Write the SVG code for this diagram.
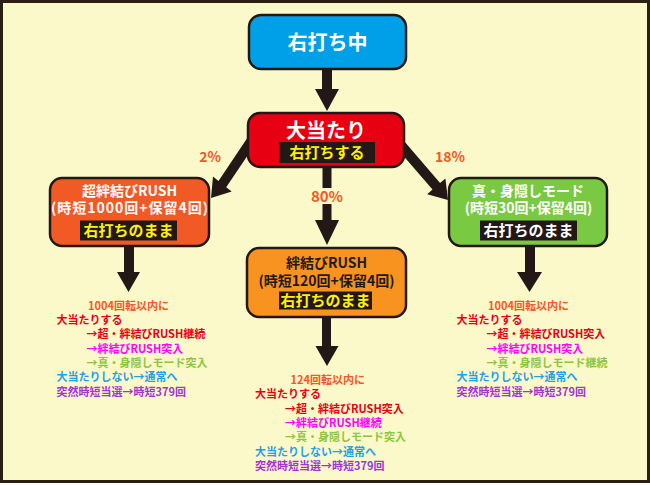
<svg xmlns="http://www.w3.org/2000/svg" width="650" height="485" viewBox="0 0 650 485">
<style>
text{font-family:"Noto Sans CJK JP","Noto Sans",sans-serif;font-weight:bold}
.node{stroke:#231815;stroke-width:2.5}
.arrow{fill:#231815}
.t20{font-size:20px;fill:#fff;text-anchor:middle}
.t14{font-size:14px;fill:#fff;text-anchor:middle}
.sub{font-size:15px;fill:#fff100;text-anchor:middle}
.pct{font-size:14px;fill:#f15a24;text-anchor:middle}
.s{font-size:11px}
.or{fill:#f15a24}.rd{fill:#e60012}.mg{fill:#ff00ff}.gn{fill:#8cc63f}.bl{fill:#1ea0e6}.pu{fill:#a233d4}
</style>
<rect x="1.5" y="1.5" width="647" height="480" fill="#fbf8ca" stroke="#2b1f14" stroke-width="3"/>
<g id="connectors">
<polygon class="arrow" points="322,68 332,68 332,89 339,89 327,111 315,89 322,89"/>
<polygon class="arrow" points="322.5,160 331.5,160 331.5,220 339,220 327,245 315,220 322.5,220"/>
<rect x="308" y="188" width="38" height="16" fill="#fbf8ca"/>
<polygon class="arrow" points="404.2,141.3 440.1,183.1 445.4,178.5 448,200 427.2,194.2 432.5,189.6 396.6,147.9"/>
<polygon class="arrow" points="257.1,141.3 226.2,187.2 231.7,191.6 211,198 213.0,176.4 218.5,180.9 249.3,135.0"/>
<polygon class="arrow" points="124,240 134,240 134,272 140,272 128.5,292 117,272 124,272"/>
<polygon class="arrow" points="525,240 535,240 535,272 542,272 529.5,292 517,272 525,272"/>
<polygon class="arrow" points="322,310 331,310 331,346 338.5,346 327,366 315.5,346 322,346"/>
<text class="pct" x="210" y="162">2%</text>
<text class="pct" x="450" y="162">18%</text>
<text class="pct" x="327" y="202" style="font-size:15px">80%</text>
</g>
<g id="node-migiuchi">
<rect class="node" x="249" y="15" width="157" height="54" rx="12" fill="#00a0e9"/>
<text class="t20" x="327.5" y="49.5">右打ち中</text>
</g>
<g id="node-oatari">
<rect class="node" x="248" y="113" width="156" height="54" rx="12" fill="#e60012"/>
<text class="t20" x="326" y="137.5">大当たり</text>
<rect x="279" y="142" width="96" height="21" fill="#231815"/>
<text class="sub" x="327" y="158">右打ちする</text>
</g>
<g id="node-super-rush">
<rect class="node" x="50" y="178" width="159" height="68" rx="12" fill="#f15a24"/>
<text class="t14" x="129.5" y="196">超絆結びRUSH</text>
<text class="t14" x="130" y="212.5" letter-spacing="1">(時短1000回+保留4回)</text>
<rect x="80" y="220.5" width="97" height="20" fill="#231815"/>
<text class="sub" x="128.5" y="236">右打ちのまま</text>
</g>
<g id="node-rush">
<rect class="node" x="247" y="248" width="159" height="69" rx="12" fill="#f7931e"/>
<text class="t14" x="326.5" y="268" fill="#231815" style="fill:#231815">絆結びRUSH</text>
<text class="t14" x="326.5" y="285.5" style="fill:#231815">(時短120回+保留4回)</text>
<rect x="279" y="291.5" width="93" height="18" fill="#231815"/>
<text class="sub" x="325.5" y="306">右打ちのまま</text>
</g>
<g id="node-shin">
<rect class="node" x="449" y="178" width="158" height="68" rx="12" fill="#7ac943"/>
<text class="t14" x="528" y="196">真・身隠しモード</text>
<text class="t14" x="528.5" y="212.5">(時短30回+保留4回)</text>
<rect x="480" y="220.5" width="97" height="20" fill="#231815"/>
<text class="sub" x="528.5" y="236" style="fill:#fff">右打ちのまま</text>
</g>
<g id="text-left" class="s">
<text class="s or" x="88" y="309.7">1004回転以内に</text>
<text class="s rd" x="56.5" y="324">大当たりする</text>
<text class="s rd" x="86.5" y="338.3">→超・絆結びRUSH継続</text>
<text class="s mg" x="86.5" y="352.6">→絆結びRUSH突入</text>
<text class="s gn" x="86.5" y="366.9">→真・身隠しモード突入</text>
<text class="s bl" x="56.5" y="381.2">大当たりしない→通常へ</text>
<text class="s pu" x="56.5" y="395.5">突然時短当選→時短379回</text>
</g>
<g id="text-center">
<text class="s or" x="290.5" y="384">124回転以内に</text>
<text class="s rd" x="255" y="398.3">大当たりする</text>
<text class="s rd" x="285" y="412.6">→超・絆結びRUSH突入</text>
<text class="s mg" x="285" y="426.9">→絆結びRUSH継続</text>
<text class="s gn" x="285" y="441.2">→真・身隠しモード突入</text>
<text class="s bl" x="255" y="455.5">大当たりしない→通常へ</text>
<text class="s pu" x="255" y="469.8">突然時短当選→時短379回</text>
</g>
<g id="text-right">
<text class="s or" x="488" y="309.7">1004回転以内に</text>
<text class="s rd" x="456.5" y="324">大当たりする</text>
<text class="s rd" x="486.5" y="338.3">→超・絆結びRUSH突入</text>
<text class="s mg" x="486.5" y="352.6">→絆結びRUSH突入</text>
<text class="s gn" x="486.5" y="366.9">→真・身隠しモード継続</text>
<text class="s bl" x="456.5" y="381.2">大当たりしない→通常へ</text>
<text class="s pu" x="456.5" y="395.5">突然時短当選→時短379回</text>
</g>
</svg>
